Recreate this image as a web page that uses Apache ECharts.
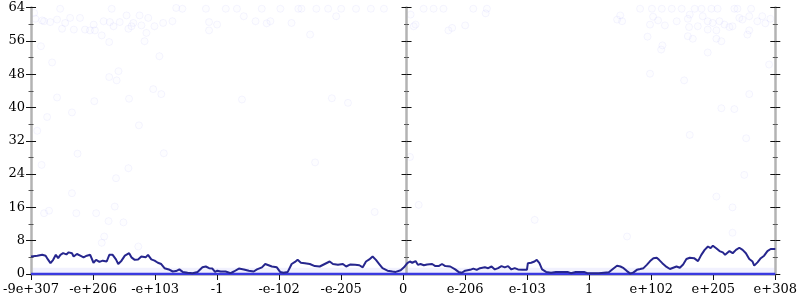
<!DOCTYPE html>
<html>
<head>
<meta charset="utf-8">
<script src="https://cdn.jsdelivr.net/npm/echarts@6/dist/echarts.min.js"></script>
<style>html,body{margin:0;padding:0;background:#fff}#c{width:800px;height:300px}</style>
</head>
<body>
<div id="c"></div>
<script>
// x axis: 13 evenly spaced positions (0..12) labelled with these values
const xTickLabels = ['-9e+307','-e+206','-e+103','-1','-e-102','-e-205','0','e-206','e-103','1','e+102','e+205','e+308'];
const yMin = 0, yMax = 64, yStep = 8;

// running line
const lineX = [0.000,0.101,0.181,0.235,0.272,0.314,0.357,0.400,0.437,0.474,0.517,0.570,0.607,0.660,0.687,0.740,0.794,0.847,0.900,0.954,
1.007,1.049,1.103,1.156,1.220,1.262,1.316,1.369,1.406,1.459,1.513,1.582,1.619,1.672,1.726,1.779,1.848,1.886,1.939,1.992,
2.045,2.099,2.152,2.221,2.285,2.338,2.392,2.445,2.525,2.605,2.685,2.764,2.818,2.871,2.924,
2.967,3.004,3.057,3.137,3.217,3.271,3.351,3.431,3.511,3.590,3.643,3.723,3.776,3.830,3.883,3.963,4.016,4.070,4.139,4.202,4.256,4.298,4.351,4.415,4.495,4.575,4.655,4.735,4.815,4.868,4.948,5.028,5.081,5.150,5.225,5.294,5.348,5.401,5.454,5.507,5.561,5.614,5.667,5.747,5.827,5.880,5.960,
6.013,6.067,6.109,6.147,6.200,6.237,6.280,6.333,6.387,6.467,6.519,6.572,6.626,6.679,6.759,6.839,6.892,6.946,6.999,7.079,7.132,7.186,7.238,7.318,7.371,7.425,7.478,7.531,7.585,7.638,7.691,7.745,7.798,7.851,7.921,7.995,8.011,8.064,8.117,8.154,8.197,8.240,8.304,8.384,8.464,8.570,8.650,8.703,8.783,8.916,8.969,
9.156,9.316,9.396,9.448,9.503,9.555,9.608,9.662,9.715,9.768,9.822,9.875,9.928,9.982,10.035,10.088,10.126,10.178,10.247,10.301,10.354,10.407,10.461,10.514,10.567,10.621,10.690,10.754,10.807,10.861,10.914,10.957,10.994,11.047,11.101,11.154,11.191,11.261,11.313,11.366,11.420,11.473,11.526,11.580,11.633,11.660,11.713,11.766,11.820,11.873,11.926,12.000];
const lineY = [4.2,4.4,4.6,4.4,3.5,2.6,3.4,4.6,3.8,4.6,5.0,4.7,5.2,5.0,4.2,4.8,4.4,4.0,4.4,4.6,
2.7,3.4,2.9,3.2,3.0,4.6,4.6,3.5,2.4,3.2,4.4,5.0,4.0,3.4,3.5,4.2,4.0,4.6,3.5,3.2,
2.7,2.4,1.4,1.1,0.6,0.7,1.1,0.5,0.3,0.2,0.5,1.6,1.8,1.4,1.3,
0.5,0.8,0.6,0.6,0.2,0.6,1.3,1.1,0.8,0.6,1.1,1.6,2.4,2.1,1.8,1.6,0.5,0.3,0.5,2.4,2.9,3.4,2.7,2.6,2.4,1.9,1.8,2.4,3.0,2.4,2.2,2.4,1.8,2.3,2.2,2.1,1.6,3.0,3.5,4.2,3.4,2.4,1.4,0.8,0.6,0.5,0.9,
1.6,2.6,3.0,2.7,3.1,2.2,2.4,2.1,2.3,2.4,1.9,1.9,2.4,1.9,1.8,1.1,0.5,0.3,0.8,1.0,1.3,1.0,1.4,1.6,1.4,1.8,1.1,1.4,1.9,1.6,1.9,1.1,1.4,1.1,1.0,1.0,2.6,2.7,3.0,3.4,2.6,1.1,0.5,0.3,0.5,0.5,0.5,0.2,0.5,0.5,0.2,
0.2,0.4,1.4,2.0,1.8,1.4,0.7,0.1,0.4,1.0,1.2,1.4,2.2,3.1,3.8,3.9,3.4,2.6,1.7,1.2,1.5,1.8,1.5,2.3,3.6,3.9,3.8,3.1,4.6,5.8,6.6,6.2,6.8,6.2,5.5,5.2,4.6,5.5,5.0,5.8,6.3,5.8,5.0,3.6,3.0,2.0,2.8,3.8,4.4,5.5,6.0,6.0];

// faint individual samples
const scatterX = [0.05,0.07,0.18,0.21,0.31,0.42,0.47,0.55,0.50,0.63,0.69,0.79,0.87,0.95,1.03,1.01,1.14,1.17,1.27,1.26,1.33,1.43,1.54,1.57,1.65,1.75,1.78,1.83,1.86,1.89,1.99,2.07,2.13,2.28,2.34,
0.16,0.34,1.41,1.26,1.38,0.42,1.02,1.58,1.97,2.10,0.66,0.26,0.10,1.74,1.30,1.62,
2.87,3.00,2.87,3.43,3.62,3.86,3.80,4.20,3.40,2.44,2.82,3.14,3.32,3.72,4.02,4.31,
4.50,4.92,6.20,6.17,6.73,6.79,7.00,6.12,7.33,4.85,5.11,4.36,4.60,4.79,5.00,5.24,5.48,5.69,6.33,6.49,6.65,7.13,7.35,
9.50,9.45,9.53,10.03,10.11,9.98,10.22,10.41,10.62,10.59,10.61,10.75,10.83,10.91,10.99,10.91,11.05,11.10,11.18,11.26,11.31,11.42,11.47,11.58,11.58,11.71,11.79,11.84,11.92,
9.94,10.18,10.16,10.59,10.67,11.05,11.13,11.55,10.91,11.90,9.98,10.53,11.58,11.13,11.34,10.62,11.53,
9.82,10.01,10.17,10.33,10.49,10.70,10.81,10.97,11.07,11.34,11.39,11.61,
0.17,0.75,2.14,0.66,0.21,0.29,0.73,1.05,1.35,1.25,1.49,1.37,1.57,1.18,1.14,1.73,
4.58,5.54,6.11,6.25,8.12,11.50,11.05,11.31,11.31,9.61];
const scatterY = [62.7,61.3,60.9,60.7,60.5,61.1,63.7,60.3,58.9,61.5,58.7,61.5,58.7,58.5,58.5,59.9,57.3,60.7,60.5,55.7,59.5,60.5,62.1,58.9,60.3,62.1,59.7,55.9,57.9,61.5,59.5,52.3,60.3,60.7,63.9,
54.7,50.8,48.7,47.3,46.5,42.4,41.5,42.1,44.4,43.2,38.8,37.7,34.4,35.7,63.7,59.5,
60.5,59.9,58.5,61.9,60.7,60.7,60.2,60.3,41.9,63.7,63.7,63.7,63.7,63.7,63.7,63.7,
57.5,61.9,59.9,59.5,58.5,59.1,59.7,62.3,62.6,42.2,41.1,63.7,63.7,63.7,63.7,63.7,63.7,63.7,63.7,63.7,63.7,63.7,63.7,
62.1,61.1,60.7,61.8,60.9,59.9,59.7,60.7,62.3,61.3,59.3,59.5,61.9,60.7,60.3,58.7,58.5,60.7,59.9,59.3,59.5,61.5,61.1,61.9,58.5,60.7,61.9,60.2,61.3,
57.0,54.9,53.9,57.1,56.5,56.5,55.9,57.5,53.2,50.3,48.1,46.5,43.2,39.8,39.6,33.4,32.6,
63.7,63.7,63.7,63.7,63.7,63.7,63.7,63.7,63.7,63.7,63.7,63.7,
26.2,28.9,29.0,19.4,14.6,15.2,14.6,14.6,16.2,12.7,12.4,23.0,25.4,9.0,7.5,6.6,
26.8,14.9,28.1,16.6,13.0,23.8,18.6,16.0,9.9,9.0];

// dense samples at zero and just above
const zeroX = [0, 12];
const zeroY = [0, 0];
const nearZeroY = [0.8, 0.8];

const zip = (a, b) => a.map((v, i) => [v, b[i]]);
const FONT = 'DejaVu Serif';
const GRAY = '#b3b3b3';

function yAx(position, offset, inside, label, line) {
  return {
    type: 'value', min: yMin, max: yMax, interval: yStep, position: position, offset: offset,
    axisLine: { show: line, lineStyle: { color: GRAY, width: 2.5 } },
    axisTick: { show: true, inside: inside, length: 5, lineStyle: { color: '#111', width: 1 } },
    minorTick: { show: true, splitNumber: 2, length: 2.5, lineStyle: { color: '#555', width: 1 } },
    axisLabel: { show: label, fontFamily: FONT, fontSize: 13, color: '#000', margin: 6 },
    splitLine: { show: false }, z: line ? 3 : 4
  };
}

const chart = echarts.init(document.getElementById('c'), null, { renderer: 'canvas' });
chart.setOption({
  animation: false,
  backgroundColor: '#fff',
  grid: { left: 27, right: 22, top: 7.5, bottom: 26, containLabel: false },
  xAxis: [
    { type: 'value', min: 0, max: xTickLabels.length - 1, interval: 1, position: 'bottom',
      axisLine: { show: true, lineStyle: { color: GRAY, width: 2 } },
      axisTick: { show: true, length: 6, lineStyle: { color: '#111', width: 1 } },
      axisLabel: { fontFamily: FONT, fontSize: 13, color: '#000', margin: 9,
        showMinLabel: true, showMaxLabel: true,
        formatter: v => xTickLabels[Math.round(v)] },
      splitLine: { show: false } },
    { type: 'value', min: 0, max: xTickLabels.length - 1, interval: 1, position: 'top',
      axisLine: { show: true, lineStyle: { color: GRAY, width: 2.5 } },
      axisTick: { show: false }, axisLabel: { show: false }, splitLine: { show: false } }
  ],
  yAxis: [
    yAx('left', 0, false, true, true),
    yAx('left', 0, true, false, false),
    yAx('left', -375.5, false, false, true),
    yAx('left', -375.5, true, false, false),
    yAx('right', 0, false, false, true),
    yAx('right', 0, true, false, false)
  ],
  series: [
    { type: 'scatter', data: zip(scatterX, scatterY), symbol: 'circle', symbolSize: 7,
      itemStyle: { color: 'rgba(150,150,255,0.03)', borderColor: 'rgba(120,120,240,0.09)', borderWidth: 1 },
      z: 1, silent: true },
    { type: 'line', data: zip(zeroX, nearZeroY), symbol: 'none',
      lineStyle: { color: 'rgba(140,140,250,0.12)', width: 6 }, z: 2, silent: true },
    { type: 'line', data: zip(zeroX, zeroY), symbol: 'none',
      lineStyle: { color: '#3a3ae0', width: 2.5 }, z: 5, silent: true },
    { type: 'line', data: zip(lineX, lineY), symbol: 'none',
      lineStyle: { color: '#26268e', width: 2 }, z: 6, silent: true }
  ]
});
</script>
</body>
</html>
